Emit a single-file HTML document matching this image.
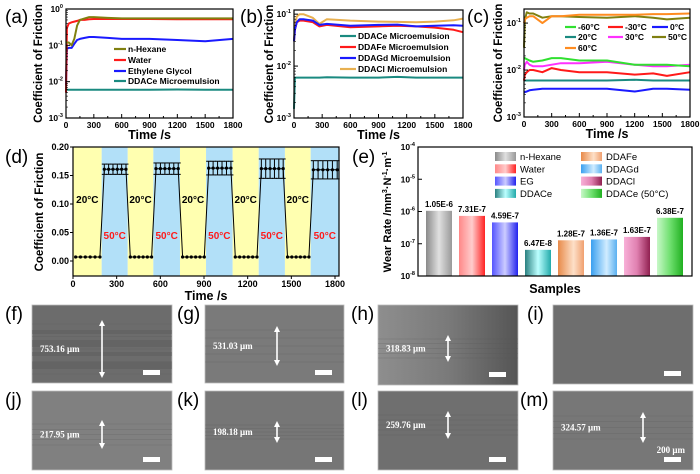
<!DOCTYPE html>
<html><head><meta charset="utf-8"><style>
html,body{margin:0;padding:0;background:#fff;}
svg{display:block;font-family:"Liberation Sans",Arial,sans-serif;}
</style></head><body>
<svg id="fig" width="700" height="474" viewBox="0 0 700 474" xmlns="http://www.w3.org/2000/svg">
<defs>
<linearGradient id="g0" x1="0" x2="1"><stop offset="0" stop-color="#8a8a8a"/><stop offset="0.5" stop-color="#e0e0e0"/><stop offset="1" stop-color="#999"/></linearGradient>
<linearGradient id="g1" x1="0" x2="1"><stop offset="0" stop-color="#f88"/><stop offset="0.5" stop-color="#fcc"/><stop offset="1" stop-color="#f22"/></linearGradient>
<linearGradient id="g2" x1="0" x2="1"><stop offset="0" stop-color="#55f"/><stop offset="0.5" stop-color="#ccf"/><stop offset="1" stop-color="#22e"/></linearGradient>
<linearGradient id="g3" x1="0" x2="1"><stop offset="0" stop-color="#2a8080"/><stop offset="0.5" stop-color="#bff"/><stop offset="1" stop-color="#2aa"/></linearGradient>
<linearGradient id="g4" x1="0" x2="1"><stop offset="0" stop-color="#e88a4a"/><stop offset="0.6" stop-color="#fde0c8"/><stop offset="1" stop-color="#f0a070"/></linearGradient>
<linearGradient id="g5" x1="0" x2="1"><stop offset="0" stop-color="#3aa0f0"/><stop offset="0.6" stop-color="#d0ecff"/><stop offset="1" stop-color="#5ab0f0"/></linearGradient>
<linearGradient id="g6" x1="0" x2="1"><stop offset="0" stop-color="#f8b0d8"/><stop offset="0.5" stop-color="#e080b0"/><stop offset="1" stop-color="#902050"/></linearGradient>
<linearGradient id="g7" x1="0" x2="1"><stop offset="0" stop-color="#c8f8c8"/><stop offset="0.5" stop-color="#70e070"/><stop offset="1" stop-color="#20b020"/></linearGradient>
<linearGradient id="hgrad" x1="0" x2="1"><stop offset="0" stop-color="#8e8e8e"/><stop offset="0.5" stop-color="#7a7a7a"/><stop offset="1" stop-color="#555"/></linearGradient>
</defs>
</svg>
<script>
// ---------- DATA ----------
const aTime = [0,10,30,60,90,120,150,200,250,300,450,600,900,1200,1500,1800];
const aHexane = [0.12,0.12,0.12,0.1,0.15,0.35,0.5,0.55,0.6,0.6,0.57,0.55,0.55,0.55,0.55,0.55];
const aWater = [0.005,0.3,0.4,0.43,0.45,0.47,0.5,0.5,0.52,0.53,0.53,0.53,0.53,0.52,0.52,0.52];
const aEG = [0.008,0.08,0.085,0.085,0.11,0.14,0.15,0.16,0.17,0.17,0.16,0.15,0.15,0.14,0.13,0.15];
const aDDACe = [0.006,0.006,0.006,0.006,0.006,0.006,0.006,0.006,0.006,0.006,0.006,0.006,0.006,0.0061,0.006,0.006];

const bTime = [0,10,30,60,100,200,270,350,600,900,1100,1300,1500,1700,1800];
const bDDACe = [0.0015,0.006,0.006,0.006,0.006,0.006,0.006,0.0061,0.006,0.006,0.0062,0.006,0.006,0.006,0.006];
const bDDAFe = [0.03,0.05,0.07,0.075,0.075,0.07,0.058,0.062,0.056,0.058,0.06,0.058,0.055,0.05,0.045];
const bDDAGd = [0.03,0.05,0.07,0.08,0.08,0.075,0.062,0.065,0.06,0.062,0.063,0.058,0.06,0.061,0.06];
const bDDACl = [0.03,0.06,0.09,0.1,0.1,0.085,0.065,0.08,0.075,0.072,0.071,0.07,0.072,0.076,0.082];

const cTime = [0,10,30,60,100,200,300,400,600,900,1200,1400,1550,1800];
const cM60 = [0.018,0.018,0.017,0.016,0.015,0.016,0.018,0.018,0.016,0.016,0.013,0.013,0.013,0.012];
const cM30 = [0.006,0.008,0.009,0.01,0.01,0.009,0.011,0.01,0.009,0.009,0.008,0.0085,0.0075,0.009];
const c0 = [0.0033,0.0034,0.0035,0.0037,0.0038,0.004,0.004,0.004,0.004,0.004,0.0035,0.004,0.004,0.0038];
const c20 = [0.006,0.006,0.006,0.006,0.006,0.006,0.006,0.006,0.006,0.006,0.0062,0.006,0.006,0.006];
const c30 = [0.01,0.013,0.015,0.013,0.012,0.012,0.013,0.014,0.014,0.015,0.013,0.012,0.012,0.013];
const c50 = [0.03,0.12,0.17,0.16,0.16,0.13,0.14,0.14,0.135,0.13,0.14,0.13,0.12,0.13];
const c60 = [0.1,0.12,0.13,0.14,0.14,0.1,0.14,0.14,0.15,0.15,0.15,0.155,0.155,0.16];

const dBandEdges = [0,197,376,552,735,914,1097,1276,1456,1633,1827];
const dLow = [0.007,0.007,0.007,0.007,0.007];
const dHigh = [0.161,0.162,0.163,0.162,0.160];
const dErr = [0.009,0.01,0.012,0.017,0.016];
const dTicks = [0,300,600,900,1200,1500,1800];
const dYTicks = [0,0.05,0.10,0.15,0.20];

const eNames = ["n-Hexane","Water","EG","DDACe","DDAFe","DDAGd","DDACl","DDACe (50°C)"];
const eValues = [1.05e-6,7.31e-7,4.59e-7,6.47e-8,1.28e-7,1.36e-7,1.63e-7,6.38e-7];
const eLabels = ["1.05E-6","7.31E-7","4.59E-7","6.47E-8","1.28E-7","1.36E-7","1.63E-7","6.38E-7"];

const timeTicks = [0,300,600,900,1200,1500,1800];

// ---------- HELPERS ----------
const NS = "http://www.w3.org/2000/svg";
const svg = document.getElementById("fig");
function mk(tag, attrs, parent){const e=document.createElementNS(NS,tag);for(const k in attrs)e.setAttribute(k,attrs[k]);(parent||svg).appendChild(e);return e;}
function txt(x,y,s,opt){const t=mk("text",Object.assign({x:x,y:y,"font-size":9,"font-weight":"bold",fill:"#000"},opt||{}));t.textContent=s;return t;}
function powLabel(x,y,exp,fs){const t=mk("text",{x:x,y:y,"font-size":fs||9,"font-weight":"bold","text-anchor":"end"});const a=mk("tspan",{},t);a.textContent="10";const b=mk("tspan",{dy:-4,"font-size":(fs||9)*0.65},t);b.textContent=String(exp);return t;}

function logPanel(id,px0,px1,py0,py1,lTop,lBot,times,seriesList,ylabX,letter,letterX){
  const g=mk("g",{});
  
  
  const xs=t=>px0+(t/1800)*(px1-px0);
  const ys=v=>py0+(lTop-Math.log10(v))/(lTop-lBot)*(py1-py0);
  seriesList.forEach(s=>{
    const pts=times.map((t,i)=>xs(t).toFixed(1)+","+ys(s.v[i]).toFixed(1)).join(" ");
    const pl=mk("polyline",{points:pts,fill:"none",stroke:s.c,"stroke-width":2,"stroke-linejoin":"round"},g);
    
    
  });
  const fr=mk("rect",{x:px0,y:py0,width:px1-px0,height:py1-py0,fill:"none",stroke:"#000","stroke-width":1.2},g);
  
  
  for(let e=Math.ceil(lTop-1e-9);e>=lBot;e--){
    const y=ys(Math.pow(10,e));
    mk("line",{x1:px0,x2:px0+4,y1:y,y2:y,stroke:"#000"},g);
    const lab=powLabel(px0-3,y+3,e,8.5);
    
    
    for(let m=2;m<10;m++){const v=Math.pow(10,e)*m;if(Math.log10(v)<=lTop){const yy=ys(v);mk("line",{x1:px0,x2:px0+2,y1:yy,y2:yy,stroke:"#000","stroke-width":0.6},g);}}
  }
  timeTicks.forEach(t=>{
    const x=xs(t);
    mk("line",{x1:x,x2:x,y1:py1,y2:py1-4,stroke:"#000"},g);
    if(t<1800){mk("line",{x1:xs(t+150),x2:xs(t+150),y1:py1,y2:py1-2,stroke:"#000"},g);}
    const l=txt(x,py1+10,String(t),{"text-anchor":"middle","font-size":8.5});
    
    
  });
  const xt=txt((px0+px1)/2,py1+21,"Time /s",{"text-anchor":"middle","font-size":12.5});
  
  
  const yt=txt(0,0,"Coefficient of Friction",{"text-anchor":"middle","font-size":11.5,transform:`translate(${ylabX},${(py0+py1)/2}) rotate(-90)`});
  
  
  const pl=txt(letterX,23,letter,{"font-size":19,"font-weight":"normal"});
  
  
  return g;
}
function legendLine(id,x,y,color,label,len){
  const l=mk("line",{x1:x,x2:x+len,y1:y,y2:y,stroke:color,"stroke-width":2.2});
  
  
  const t=txt(x+len+2,y+3,label,{"font-size":8.5});
  
  
}

// ---------- PANEL A ----------
logPanel("panel-a",66,233,9,118,0,-3,aTime,[
  {n:"ddace",v:aDDACe,c:"#1a8a80"},{n:"eg",v:aEG,c:"#1a1aff"},{n:"water",v:aWater,c:"#ff1a1a"},{n:"hexane",v:aHexane,c:"#808010"}],
  42,"(a)",5);
legendLine("panel-a",114,49,"#808010","n-Hexane",12);
legendLine("panel-a",114,60,"#ff1a1a","Water",12);
legendLine("panel-a",114,71,"#1a1aff","Ethylene Glycol",12);
legendLine("panel-a",114,81,"#1a8a80","DDACe Microemulsion",12);

// ---------- PANEL B ----------
logPanel("panel-b",294,463,10,118,-0.92,-3,bTime,[
  {n:"ddace",v:bDDACe,c:"#1a8a80"},{n:"ddafe",v:bDDAFe,c:"#ff1a1a"},{n:"ddacl",v:bDDACl,c:"#e8b050"},{n:"ddagd",v:bDDAGd,c:"#1a1aff"}],
  273,"(b)",240);
legendLine("panel-b",340,36,"#1a8a80","DDACe Microemulsion",16);
legendLine("panel-b",340,47,"#ff1a1a","DDAFe Microemulsion",16);
legendLine("panel-b",340,58,"#1a1aff","DDAGd Microemulsion",16);
legendLine("panel-b",340,69,"#e8b050","DDACl  Microemulsion",16);

// ---------- PANEL C ----------
logPanel("panel-c",524,690,9,117,-0.7,-3,cTime,[
  {n:"20c",v:c20,c:"#1a8a80"},{n:"0c",v:c0,c:"#1a1aff"},{n:"m30c",v:cM30,c:"#ff1a1a"},{n:"30c",v:c30,c:"#ff30ff"},{n:"m60c",v:cM60,c:"#30e030"},{n:"50c",v:c50,c:"#808010"},{n:"60c",v:c60,c:"#ff8c20"}],
  502,"(c)",467);
legendLine("panel-c",565,27,"#30e030","-60°C",11);
legendLine("panel-c",608,27,"#ff1a1a","-30°C",15);
legendLine("panel-c",652,27,"#1a1aff","0°C",16);
legendLine("panel-c",565,37,"#1a8a80","20°C",11);
legendLine("panel-c",608,37,"#ff30ff","30°C",15);
legendLine("panel-c",652,37,"#808010","50°C",14);
legendLine("panel-c",565,48,"#ff8c20","60°C",11);

// ---------- PANEL D ----------
(function(){
  const px0=73,px1=339,py0=147,py1=276;
  const xs=t=>73+(t/1800)*(335-73);
  const ys=v=>261-(v/0.05)*28.5;
  for(let i=0;i<dBandEdges.length-1;i++){
    const r=mk("rect",{x:xs(dBandEdges[i]),y:py0,width:xs(dBandEdges[i+1])-xs(dBandEdges[i]),height:py1-py0,fill:i%2===0?"#ffffb0":"#b2e0f8"});
    
    
  }
  const pts=[];
  for(let k=0;k<5;k++){
    const a=dBandEdges[2*k],b=dBandEdges[2*k+1],c=dBandEdges[2*k+2];
    for(let j=0;j<6;j++){pts.push({t:a+18+j*(b-a-30)/5,v:dLow[k],e:0});}
    for(let j=0;j<6;j++){pts.push({t:b+18+j*(c-b-30)/5,v:dHigh[k],e:dErr[k]});}
  }
  const pl=mk("polyline",{points:pts.map(p=>xs(p.t).toFixed(1)+","+ys(p.v).toFixed(1)).join(" "),fill:"none",stroke:"#000","stroke-width":1});
  
  
  pts.forEach(p=>{
    const x=xs(p.t),y=ys(p.v);
    if(p.e>0){const ya=ys(p.v+p.e),yb=ys(p.v-p.e);
      mk("line",{x1:x,x2:x,y1:ya,y2:yb,stroke:"#000","stroke-width":1});
      mk("line",{x1:x-2.5,x2:x+2.5,y1:ya,y2:ya,stroke:"#000"});
      mk("line",{x1:x-2.5,x2:x+2.5,y1:yb,y2:yb,stroke:"#000"});}
    const c=mk("circle",{cx:x,cy:y,r:1.6,fill:"#000"});
    
    
  });
  for(let i=0;i<dBandEdges.length-1;i++){
    const cx=(xs(dBandEdges[i])+xs(dBandEdges[i+1]))/2;
    const t=txt(cx,i%2===0?203:239,i%2===0?"20°C":"50°C",{"text-anchor":"middle","font-size":10,fill:i%2===0?"#000":"#ff1a1a"});
    
    
  }
  const fr=mk("rect",{x:px0,y:py0,width:px1-px0,height:py1-py0,fill:"none",stroke:"#000","stroke-width":1.2});
  
  
  dYTicks.forEach(v=>{const y=ys(v);mk("line",{x1:px0-3,x2:px0,y1:y,y2:y,stroke:"#000"});
    const l=txt(px0-4,y+3,v.toFixed(2),{"text-anchor":"end","font-size":9});
    
    });
  dTicks.forEach(t=>{const x=xs(t);mk("line",{x1:x,x2:x,y1:py1,y2:py1+3,stroke:"#000"});
    const l=txt(x,py1+11,String(t),{"text-anchor":"middle","font-size":9});
    
    });
  const xt=txt(206,300,"Time /s",{"text-anchor":"middle","font-size":12.5});
  
  
  const yt=txt(0,0,"Coefficient of Friction",{"text-anchor":"middle","font-size":11.5,transform:"translate(43,212) rotate(-90)"});
  
  
  const pl2=txt(5,163,"(d)",{"font-size":19,"font-weight":"normal"});
  
  
})();

// ---------- PANEL E ----------
(function(){
  const px0=418,px1=692,py0=147,py1=276;
  const ys=v=>py0+(-4-Math.log10(v))*((py1-py0)/4);
  const bw=26,step=33;
  eValues.forEach((v,i)=>{
    const cx=439+i*step,y=ys(v);
    const r=mk("rect",{x:cx-bw/2,y:y,width:bw,height:py1-y,fill:`url(#g${i})`});
    
    
    const t=txt(cx,y-4,eLabels[i],{"text-anchor":"middle","font-size":8});
    
    
  });
  const fr=mk("rect",{x:px0,y:py0,width:px1-px0,height:py1-py0,fill:"none",stroke:"#000","stroke-width":1.2});
  
  
  for(let e=-4;e>=-8;e--){const y=ys(Math.pow(10,e));mk("line",{x1:px0,x2:px0+4,y1:y,y2:y,stroke:"#000"});
    const l=powLabel(px0-3,y+3,e,8.5);
    
    }
  eNames.forEach((n,i)=>{
    const col=i<4?0:1,row=i%4;
    const x=col?581:495,y=152+row*12.3;
    const s=mk("rect",{x:x,y:y,width:21,height:9,fill:`url(#g${i})`});
    
    
    const t=txt(x+25,y+8,n,{"font-size":9.5,"font-weight":"normal"});
    
    
  });
  const xt=txt(555,293,"Samples",{"text-anchor":"middle","font-size":12.5});
  
  
  const yt=mk("text",{"text-anchor":"middle","font-size":11,"font-weight":"bold",transform:"translate(391,212) rotate(-90)"});
  yt.innerHTML='Wear Rate /mm<tspan dy="-4" font-size="7">3</tspan><tspan dy="4">·N</tspan><tspan dy="-4" font-size="7">-1</tspan><tspan dy="4">·m</tspan><tspan dy="-4" font-size="7">-1</tspan>';
  
  
  const pl=txt(352,163,"(e)",{"font-size":19,"font-weight":"normal"});
  
  
})();

// ---------- MICROGRAPHS ----------
const imgs=[
 {l:"(f)",lx:5,x:32,y:305,w:140,h:78,f:"#6c6c6c",m:"753.16 μm",a:[320,378]},
 {l:"(g)",lx:177,x:205,y:305,w:139,h:78,f:"#7a7a7a",m:"531.03 μm",a:[326,366]},
 {l:"(h)",lx:351,x:378,y:305,w:140,h:80,f:"url(#hgrad)",m:"318.83 μm",a:[335,362]},
 {l:"(i)",lx:527,x:553,y:305,w:140,h:79,f:"#6e6e6e",m:"",a:null},
 {l:"(j)",lx:5,x:32,y:391,w:140,h:79,f:"#808080",m:"217.95 μm",a:[420,449]},
 {l:"(k)",lx:177,x:205,y:391,w:139,h:79,f:"#767676",m:"198.18 μm",a:[421,443]},
 {l:"(l)",lx:351,x:378,y:391,w:140,h:79,f:"#6f6f6f",m:"259.76 μm",a:[411,439]},
 {l:"(m)",lx:520,x:553,y:391,w:140,h:79,f:"#777",m:"324.57 μm",a:[412,443]}
];
imgs.forEach((d,i)=>{
  const r=mk("rect",{x:d.x,y:d.y,width:d.w,height:d.h,fill:d.f,stroke:"#bbb","stroke-width":0.8});
  
  
  if(i===0){[330,340,352,362].forEach((yy,k)=>mk("rect",{x:d.x,y:yy,width:d.w,height:4+k%2*3,fill:"#555",opacity:0.35}));}
  if(d.a){for(let k=0;k<5;k++){const yy=d.a[0]+4+k*(d.a[1]-d.a[0]-8)/4;mk("line",{x1:d.x,x2:d.x+d.w,y1:yy,y2:yy,stroke:"#555","stroke-width":0.6,opacity:0.4});}}
  const pl=txt(d.lx,d.y+15,d.l,{"font-size":19,"font-weight":"normal"});
  
  
  if(d.a){
    const ax=d.x+(i===7?90:i%4===0?70:d.x>370?70:72);
    const ln=mk("line",{x1:ax,x2:ax,y1:d.a[0]+4,y2:d.a[1]-4,stroke:"#fff","stroke-width":1.6});
    
    
    mk("polygon",{points:`${ax-3},${d.a[0]+6} ${ax},${d.a[0]} ${ax+3},${d.a[0]+6}`,fill:"#fff"});
    mk("polygon",{points:`${ax-3},${d.a[1]-6} ${ax},${d.a[1]} ${ax+3},${d.a[1]-6}`,fill:"#fff"});
    const t=mk("text",{x:d.x+8,y:(d.a[0]+d.a[1])/2+3,"font-size":9,"font-weight":"bold",fill:"#fff","font-family":"Liberation Serif,serif"});
    t.textContent=d.m;
    
    
  }
  const sb=mk("rect",{x:d.x+d.w-29,y:d.y+d.h-13,width:17,height:5,fill:"#fff"});
  
  
  if(i===7){const t=mk("text",{x:d.x+d.w-8,y:d.y+d.h-17,"font-size":9,"font-weight":"bold",fill:"#fff","text-anchor":"end","font-family":"Liberation Serif,serif"});
    t.textContent="200 μm";
    
    }
});
</script>
</body></html>
